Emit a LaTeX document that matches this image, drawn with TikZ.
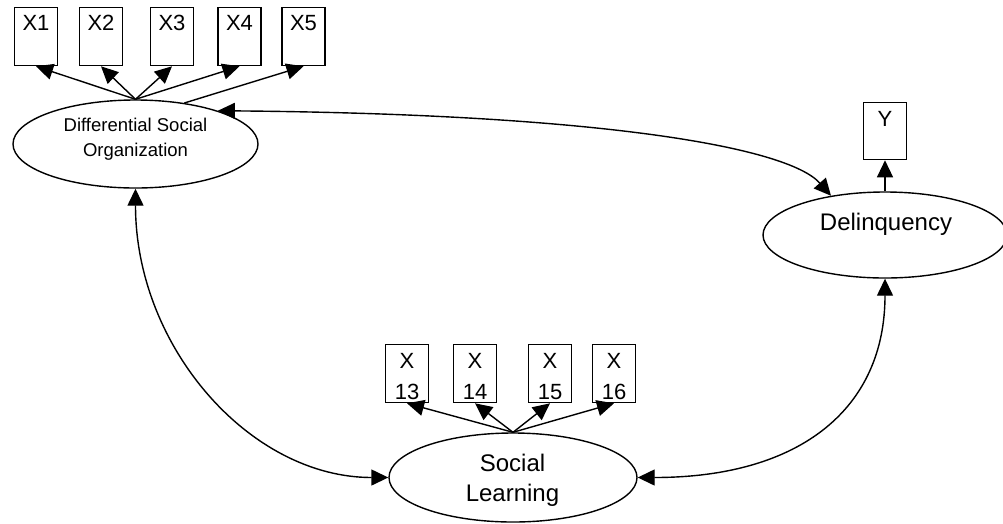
\documentclass[tikz,border=0pt]{standalone}
\usepackage{fontspec}
\setmainfont{Liberation Sans}
\usetikzlibrary{arrows.meta,shapes.geometric}
\begin{document}
\begin{tikzpicture}[x=1pt,y=-1pt,
  latent/.style={draw, ellipse, line width=1.4pt, inner sep=0pt},
  obsbox/.style={draw, rectangle, line width=1.3pt, minimum width=43pt, minimum height=58pt, inner sep=0pt, anchor=north},
  boxtxt/.style={anchor=base, font=\fontsize{22}{26}\selectfont, inner sep=0pt},
  bigtxt/.style={anchor=base, font=\fontsize{24}{28}\selectfont, inner sep=0pt},
  smalltxt/.style={anchor=base, font=\fontsize{18.5}{22}\selectfont, inner sep=0pt},
  conn/.style={line width=1.4pt, -{Triangle[length=17pt,width=16pt]}},
  dconn/.style={line width=1.4pt, {Triangle[length=17pt,width=16pt]}-{Triangle[length=17pt,width=16pt]}}
]
\useasboundingbox (0,0) rectangle (1003,523);

% latent variables
\node[latent, minimum width=245pt, minimum height=88pt] (dso) at (135.5,144) {};
\node[smalltxt] (dsot1) at (135.5,131) {Differential Social};
\node[smalltxt] (dsot2) at (135.5,156) {Organization};

\node[latent, minimum width=244pt, minimum height=86pt] (del) at (885,235) {};
\node[bigtxt] (delt) at (886,230) {Delinquency};

\node[latent, minimum width=248pt, minimum height=89pt] (sl) at (513,477.5) {};
\node[bigtxt] (slt1) at (512.5,471) {Social};
\node[bigtxt] (slt2) at (512.5,501) {Learning};

% indicators of DSO
\node[obsbox] (x1) at (36,7) {};
\node[obsbox] (x2) at (101,7) {};
\node[obsbox] (x3) at (172,7) {};
\node[obsbox] (x4) at (239.5,7) {};
\node[obsbox] (x5) at (303.5,7) {};
\node[boxtxt] (x1t) at (36,30) {X1};
\node[boxtxt] (x2t) at (101,30) {X2};
\node[boxtxt] (x3t) at (172,30) {X3};
\node[boxtxt] (x4t) at (239.5,30) {X4};
\node[boxtxt] (x5t) at (303.5,30) {X5};

% indicator of Delinquency
\node[obsbox, minimum height=57pt] (y) at (885,102) {};
\node[boxtxt] (yt) at (885,126) {Y};

% indicators of Social Learning
\node[obsbox] (x13) at (407,344) {};
\node[obsbox] (x14) at (475,344) {};
\node[obsbox] (x15) at (550,344) {};
\node[obsbox] (x16) at (614,344) {};
\node[boxtxt] (x13a) at (407,368) {X};
\node[boxtxt] (x13b) at (407,399) {13};
\node[boxtxt] (x14a) at (475,368) {X};
\node[boxtxt] (x14b) at (475,399) {14};
\node[boxtxt] (x15a) at (550,368) {X};
\node[boxtxt] (x15b) at (550,399) {15};
\node[boxtxt] (x16a) at (614,368) {X};
\node[boxtxt] (x16b) at (614,399) {16};

% loadings
\draw[conn] (dso.north) -- (x1.south);
\draw[conn] (dso.north) -- (x2.south);
\draw[conn] (dso.north) -- (x3.south);
\draw[conn] (dso.north) -- (x4.south);
\draw[conn] (dso.40) -- (x5.south);
\draw[conn] (del.north) -- (y.south);
\draw[conn] (sl.north) -- (x13.south);
\draw[conn] (sl.north) -- (x14.south);
\draw[conn] (sl.north) -- (x15.south);
\draw[conn] (sl.north) -- (x16.south);

% correlations
\draw[dconn] (dso.22) .. controls (600,114) and (788,147) .. (del.144);
\draw[dconn] (dso.south) .. controls (135.5,347) and (250,477.5) .. (sl.west);
\draw[dconn] (sl.east) .. controls (801,477.5) and (885,408) .. (del.south);
\end{tikzpicture}
\end{document}
